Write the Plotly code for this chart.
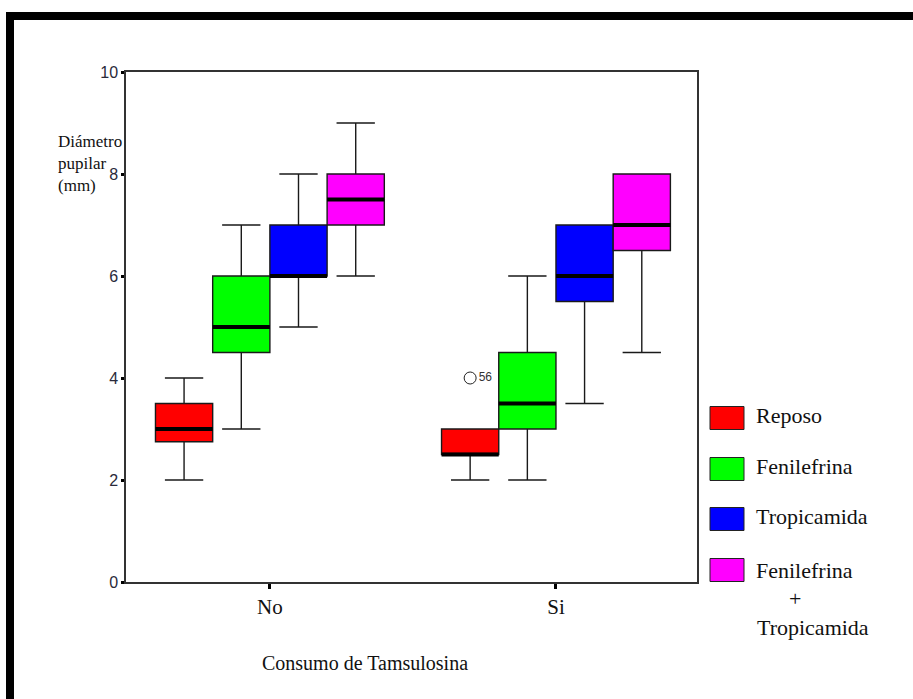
import plotly.graph_objects as go

# ---- data ----
groups = ["No", "Si"]
series = ["Reposo", "Fenilefrina", "Tropicamida", "Fenilefrina + Tropicamida"]
colors = ["#FF0000", "#00FF00", "#0000FF", "#FF00FF"]

lower_fence = [[2.0, 2.0], [3.0, 2.0], [5.0, 3.5], [6.0, 4.5]]
q1_vals     = [[2.75, 2.5], [4.5, 3.0], [6.0, 5.5], [7.0, 6.5]]
median_vals = [[3.0, 2.5], [5.0, 3.5], [6.0, 6.0], [7.5, 7.0]]
q3_vals     = [[3.5, 3.0], [6.0, 4.5], [7.0, 7.0], [8.0, 8.0]]
upper_fence = [[4.0, 3.0], [7.0, 6.0], [8.0, 7.0], [9.0, 8.0]]

# outlier: (group, series index, value, case label)
outlier_group = ["Si"]
outlier_series = [0]
outlier_value = [4.0]
outlier_label = ["56"]

y_ticks = [0, 2, 4, 6, 8, 10]

# ---- layout geometry ----
W, H = 913, 699
L, R, T, B = 126, 216, 72, 117
PW, PH = W - L - R, H - T - B
box_w = 0.2
n = len(series)


def px(x):
    return (x - L) / PW


def py(y):
    return (H - B - y) / PH


def pos(gi, si):
    return gi + (si - (n - 1) / 2) * box_w


fig = go.Figure()
serif = "Liberation Serif, Times New Roman, serif"
sans = "Liberation Sans, Arial, sans-serif"

for si, name in enumerate(series):
    xs = [pos(gi, si) for gi in range(len(groups))]
    fig.add_trace(go.Box(
        x=xs, q1=q1_vals[si], median=median_vals[si], q3=q3_vals[si],
        lowerfence=lower_fence[si], upperfence=upper_fence[si],
        width=box_w, whiskerwidth=0.67,
        fillcolor=colors[si], line=dict(color="#1a1a1a", width=1.4),
        name=name, showlegend=False, hoverinfo="skip", boxpoints=False,
    ))

# thick median lines
for si in range(n):
    mx, my = [], []
    for gi in range(len(groups)):
        c = pos(gi, si)
        mx += [c - box_w / 2, c + box_w / 2, None]
        my += [median_vals[si][gi], median_vals[si][gi], None]
    fig.add_trace(go.Scatter(x=mx, y=my, mode="lines",
                             line=dict(color="black", width=4),
                             showlegend=False, hoverinfo="skip"))

# outliers
ox = [pos(groups.index(g), s) for g, s in zip(outlier_group, outlier_series)]
fig.add_trace(go.Scatter(
    x=ox, y=outlier_value, mode="markers+text", text=outlier_label,
    textposition="middle right",
    textfont=dict(family=sans, size=12, color="#333"),
    marker=dict(symbol="circle-open", size=12, color="#222", line=dict(width=1)),
    showlegend=False, hoverinfo="skip"))

fig.update_layout(
    width=W, height=H,
    margin=dict(l=L, r=R, t=T, b=B),
    paper_bgcolor="white", plot_bgcolor="white",
    showlegend=False,
    xaxis=dict(range=[-0.503, 1.493], tickvals=list(range(len(groups))), ticktext=groups,
               showgrid=False, zeroline=False, showline=True, mirror=True,
               linecolor="#333", linewidth=1.5,
               ticks="outside", ticklen=5, tickwidth=3, tickcolor="black",
               tickfont=dict(family=serif, size=21, color="#111")),
    yaxis=dict(range=[0, 10], tickvals=y_ticks,
               showgrid=False, zeroline=False, showline=True, mirror=True,
               linecolor="#333", linewidth=1.5,
               ticks="outside", ticklen=3, tickwidth=3, tickcolor="black",
               tickfont=dict(family=sans, size=16, color="#2a2a3a")),
)

ann = []
# y title
ann.append(dict(text="Diámetro<br>pupilar<br>(mm)", xref="paper", yref="paper",
                x=px(56), y=py(163), xanchor="left", yanchor="middle", align="left",
                showarrow=False, font=dict(family=serif, size=17, color="#111")))
# x title
ann.append(dict(text="Consumo de Tamsulosina", xref="paper", yref="paper",
                x=px(365), y=py(663), xanchor="center", yanchor="middle",
                showarrow=False, font=dict(family=serif, size=20, color="#111")))

shapes = []
# legend
leg_y = [418, 469, 519, 570]
for si, name in enumerate(series):
    cy = leg_y[si]
    shapes.append(dict(type="rect", xref="paper", yref="paper",
                       x0=px(710), x1=px(744), y0=py(cy + 11.5), y1=py(cy - 11.5),
                       fillcolor=colors[si], line=dict(color="#222", width=1)))
    parts = name.split(" + ")
    if len(parts) == 1:
        ann.append(dict(text=name, xref="paper", yref="paper", x=px(754), y=py(cy - 3),
                        xanchor="left", yanchor="middle", showarrow=False,
                        font=dict(family=serif, size=22, color="#111")))
    else:
        ann.append(dict(text=parts[0], xref="paper", yref="paper", x=px(754), y=py(cy),
                        xanchor="left", yanchor="middle", showarrow=False,
                        font=dict(family=serif, size=22, color="#111")))
        ann.append(dict(text="+", xref="paper", yref="paper", x=px(795), y=py(cy + 28),
                        xanchor="center", yanchor="middle", showarrow=False,
                        font=dict(family=serif, size=22, color="#111")))
        ann.append(dict(text=parts[1], xref="paper", yref="paper", x=px(755), y=py(cy + 57),
                        xanchor="left", yanchor="middle", showarrow=False,
                        font=dict(family=serif, size=22, color="#111")))

# outer black frame (top and left)
shapes.append(dict(type="rect", xref="paper", yref="paper", x0=px(6), x1=px(14),
                   y0=py(12), y1=py(H), fillcolor="black", line=dict(width=0), layer="above"))
shapes.append(dict(type="rect", xref="paper", yref="paper", x0=px(6), x1=px(W),
                   y0=py(12), y1=py(20), fillcolor="black", line=dict(width=0), layer="above"))

fig.update_layout(annotations=ann, shapes=shapes)
fig.write_html("out.html")
